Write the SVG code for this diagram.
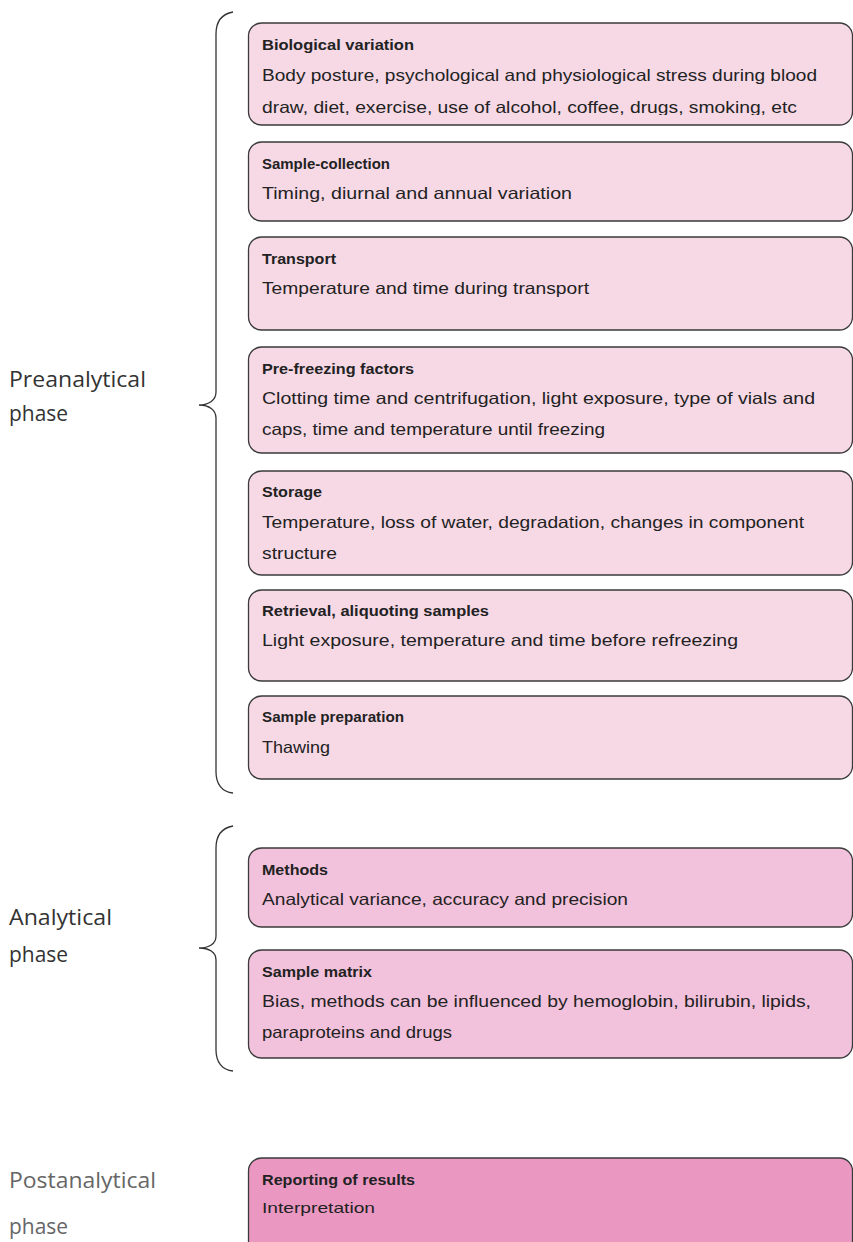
<svg xmlns="http://www.w3.org/2000/svg" width="853" height="1242" viewBox="0 0 853 1242">
<style>
.pre{fill:#F7D9E6;stroke:#3a3a3a;stroke-width:1.3}
.ana{fill:#F2C1DB;stroke:#3a3a3a;stroke-width:1.3}
.post{fill:#EA98C2;stroke:#3a3a3a;stroke-width:1.3}
.t{font-family:"Liberation Sans",Arial,sans-serif;font-weight:bold;font-size:15.5px;fill:#222}
.b{font-family:"Liberation Sans",Arial,sans-serif;font-size:16.5px;fill:#222}
.ph{font-family:"Open Sans","Liberation Sans",sans-serif;font-size:21px;fill:#333}
.brace{fill:none;stroke:#333;stroke-width:1.3}
</style>
<defs>
<clipPath id="c1"><rect x="248" y="23" width="605" height="92"/></clipPath>
</defs>
<g id="labels">
<text class="ph" x="9" y="387" textLength="137" lengthAdjust="spacingAndGlyphs">Preanalytical</text>
<text class="ph" x="9" y="421" textLength="59" lengthAdjust="spacingAndGlyphs">phase</text>
<text class="ph" x="9" y="925" textLength="103" lengthAdjust="spacingAndGlyphs">Analytical</text>
<text class="ph" x="9" y="962" textLength="59" lengthAdjust="spacingAndGlyphs">phase</text>
<text class="ph" x="9" y="1188" textLength="147" lengthAdjust="spacingAndGlyphs" style="fill:#666">Postanalytical</text>
<text class="ph" x="9" y="1234" textLength="59" lengthAdjust="spacingAndGlyphs" style="fill:#666">phase</text>
</g>
<g id="braces">
<path class="brace" d="M233,12 C222,14 216,22 216,34 L216,392 C216,400 209,405 199,405 C209,405 216,410 216,418 L216,772 C216,784 222,792 233,793"/>
<path class="brace" d="M233,826 C222,828 216,836 216,848 L216,936 C216,944 209,948 199,948 C209,948 216,952 216,960 L216,1050 C216,1062 222,1070 233,1071"/>
</g>
<g id="n1">
<rect class="pre" x="248.5" y="23" width="604" height="102" rx="13"/>
<text class="t" x="262" y="50" textLength="152" lengthAdjust="spacingAndGlyphs">Biological variation</text>
<text class="b" x="262" y="81" textLength="555" lengthAdjust="spacingAndGlyphs">Body posture, psychological and physiological stress during blood</text>
<text class="b" x="262" y="113" textLength="535" lengthAdjust="spacingAndGlyphs" clip-path="url(#c1)">draw, diet, exercise, use of alcohol, coffee, drugs, smoking, etc</text>
</g>
<g id="n2">
<rect class="pre" x="248.5" y="142" width="604" height="79" rx="13"/>
<text class="t" x="262" y="169" textLength="128" lengthAdjust="spacingAndGlyphs">Sample-collection</text>
<text class="b" x="262" y="199" textLength="310" lengthAdjust="spacingAndGlyphs">Timing, diurnal and annual variation</text>
</g>
<g id="n3">
<rect class="pre" x="248.5" y="237" width="604" height="93" rx="13"/>
<text class="t" x="262" y="264" textLength="74" lengthAdjust="spacingAndGlyphs">Transport</text>
<text class="b" x="262" y="294" textLength="327" lengthAdjust="spacingAndGlyphs">Temperature and time during transport</text>
</g>
<g id="n4">
<rect class="pre" x="248.5" y="347" width="604" height="106" rx="13"/>
<text class="t" x="262" y="374" textLength="152" lengthAdjust="spacingAndGlyphs">Pre-freezing factors</text>
<text class="b" x="262" y="404" textLength="553" lengthAdjust="spacingAndGlyphs">Clotting time and centrifugation, light exposure, type of vials and</text>
<text class="b" x="262" y="435" textLength="343" lengthAdjust="spacingAndGlyphs">caps, time and temperature until freezing</text>
</g>
<g id="n5">
<rect class="pre" x="248.5" y="471" width="604" height="104" rx="13"/>
<text class="t" x="262" y="497" textLength="60" lengthAdjust="spacingAndGlyphs">Storage</text>
<text class="b" x="262" y="528" textLength="542" lengthAdjust="spacingAndGlyphs">Temperature, loss of water, degradation, changes in component</text>
<text class="b" x="262" y="559" textLength="75" lengthAdjust="spacingAndGlyphs">structure</text>
</g>
<g id="n6">
<rect class="pre" x="248.5" y="590" width="604" height="91" rx="13"/>
<text class="t" x="262" y="616" textLength="227" lengthAdjust="spacingAndGlyphs">Retrieval, aliquoting samples</text>
<text class="b" x="262" y="646" textLength="476" lengthAdjust="spacingAndGlyphs">Light exposure, temperature and time before refreezing</text>
</g>
<g id="n7">
<rect class="pre" x="248.5" y="696" width="604" height="83" rx="13"/>
<text class="t" x="262" y="722" textLength="142" lengthAdjust="spacingAndGlyphs">Sample preparation</text>
<text class="b" x="262" y="753" textLength="68" lengthAdjust="spacingAndGlyphs">Thawing</text>
</g>
<g id="n8">
<rect class="ana" x="248.5" y="848" width="604" height="79" rx="13"/>
<text class="t" x="262" y="875" textLength="66" lengthAdjust="spacingAndGlyphs">Methods</text>
<text class="b" x="262" y="905" textLength="366" lengthAdjust="spacingAndGlyphs">Analytical variance, accuracy and precision</text>
</g>
<g id="n9">
<rect class="ana" x="248.5" y="950" width="604" height="108" rx="13"/>
<text class="t" x="262" y="977" textLength="110" lengthAdjust="spacingAndGlyphs">Sample matrix</text>
<text class="b" x="262" y="1007" textLength="549" lengthAdjust="spacingAndGlyphs">Bias, methods can be influenced by hemoglobin, bilirubin, lipids,</text>
<text class="b" x="262" y="1038" textLength="190" lengthAdjust="spacingAndGlyphs">paraproteins and drugs</text>
</g>
<g id="n10">
<rect class="post" x="248.5" y="1158" width="604" height="100" rx="13"/>
<text class="t" x="262" y="1185" textLength="153" lengthAdjust="spacingAndGlyphs">Reporting of results</text>
<text class="b" x="262" y="1213" textLength="113" lengthAdjust="spacingAndGlyphs" style="font-size:15px">Interpretation</text>
</g>
</svg>
